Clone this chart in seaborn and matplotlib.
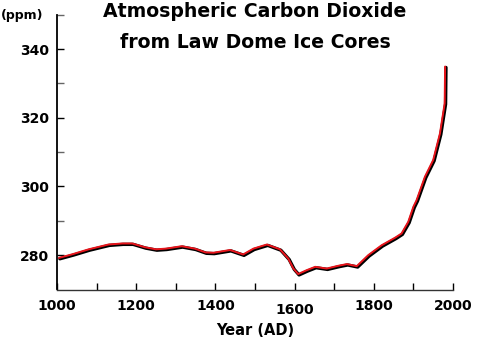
import matplotlib
matplotlib.use("Agg")
import matplotlib.pyplot as plt
import matplotlib.transforms as mtransforms
import seaborn as sns
import pandas as pd

# Data
years = [1005, 1040, 1080, 1130, 1165, 1190, 1222, 1250, 1275, 1315, 1348,
         1375, 1395, 1437, 1470, 1496, 1530, 1563, 1584, 1597, 1609, 1630,
         1652, 1681, 1710, 1732, 1757, 1786, 1820, 1854, 1870, 1887, 1900,
         1908, 1929, 1950, 1967, 1979, 1980]
co2_ppm = [279.2, 280.3, 281.7, 283.1, 283.4, 283.4, 282.3, 281.7, 281.9,
           282.6, 281.9, 280.8, 280.7, 281.5, 280.2, 281.9, 283.1, 281.7,
           279.0, 276.1, 274.5, 275.6, 276.6, 276.1, 276.9, 277.4, 276.8,
           280.0, 282.9, 285.1, 286.3, 289.7, 294.1, 296.0, 302.8, 307.7,
           315.4, 324.2, 334.9]
x_major = [1000, 1200, 1400, 1600, 1800, 2000]
x_minor = [1100, 1300, 1500, 1700, 1900]
y_major = [280, 300, 320, 340]
y_minor = [290, 310, 330, 350]
title_lines = ["Atmospheric Carbon Dioxide", "from Law Dome Ice Cores"]

df = pd.DataFrame({"year": years, "ppm": co2_ppm})

sns.set_style("white")
plt.rcParams["font.family"] = ["DejaVu Sans"]
plt.rcParams["font.weight"] = "bold"
for k in ["text.color", "axes.labelcolor", "xtick.color", "ytick.color"]:
    plt.rcParams[k] = "black"

W, H = 479, 348
fig = plt.figure(figsize=(W / 100, H / 100), dpi=100)
ax = fig.add_axes([57 / W, 1 - 289.5 / H, (453 - 57) / W, (289.5 - 14.7) / H])

# black shadow line (offset slightly right/down)
sns.lineplot(data=df, x="year", y="ppm", ax=ax, color="black", linewidth=2.4,
             solid_joinstyle="round", solid_capstyle="round")
shadow = ax.lines[-1]
shadow.set_transform(mtransforms.offset_copy(ax.transData, fig=fig, x=0.9, y=-0.9, units="dots"))
# red line on top
sns.lineplot(data=df, x="year", y="ppm", ax=ax, color="#e8141b", linewidth=1.4,
             solid_joinstyle="round", solid_capstyle="round")

ax.set_xlim(1000, 2000)
ax.set_ylim(270, 350)

ax.set_xticks(x_major)
ax.set_xticks(x_minor, minor=True)
ax.set_yticks(y_major)
ax.set_yticks(y_minor, minor=True)
ax.set_xticklabels([str(v) for v in x_major], fontsize=10, fontweight="bold")
ax.set_yticklabels([str(v) for v in y_major], fontsize=10, fontweight="bold")

ax.tick_params(axis="both", which="both", direction="in", length=5, width=1.0,
               color="black", bottom=True, left=True, top=False, right=False)
ax.tick_params(axis="y", which="minor", color="#666666")
ax.tick_params(axis="x", which="major", pad=7)
ax.tick_params(axis="y", which="major", pad=6)

# nudge the 1600 label slightly lower as in the reference
for lbl in ax.get_xticklabels():
    if lbl.get_text() == "1600":
        lbl.set_transform(lbl.get_transform() + mtransforms.ScaledTranslation(0, -4 / 100, fig.dpi_scale_trans))

for s in ["top", "right"]:
    ax.spines[s].set_visible(False)
ax.spines["left"].set_color("black")
ax.spines["left"].set_linewidth(1.3)
ax.spines["bottom"].set_color("#333333")
ax.spines["bottom"].set_linewidth(1.0)

ax.set_xlabel("Year (AD)", fontsize=10.5, fontweight="bold", labelpad=4)
ax.set_ylabel("")

fig.text(255 / W, 1 - 11.5 / H, title_lines[0], ha="center", va="center",
         fontsize=13.6, fontweight="bold")
fig.text(255 / W, 1 - 42 / H, title_lines[1], ha="center", va="center",
         fontsize=13.6, fontweight="bold")
fig.text(0.5 / W, 1 - 15 / H, "(ppm)", ha="left", va="center",
         fontsize=9, fontweight="bold")

fig.savefig("out.png", dpi=100)
